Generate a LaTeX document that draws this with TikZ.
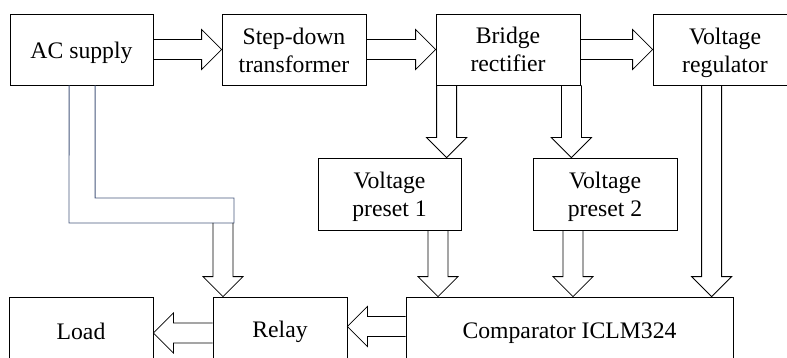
\documentclass[tikz,border=0pt]{standalone}
\usepackage{fontspec}
\setmainfont{Liberation Serif}
\newfontfamily\blkfont{Liberation Serif}
\usetikzlibrary{calc}

\definecolor{feedblue}{RGB}{70,88,124}

% hollow block arrow from #1 to #2
\newcommand{\fatarrow}[2]{%
	\coordinate (fa-s) at (#1);
	\coordinate (fa-e) at (#2);
	\coordinate (fa-c) at ($(fa-e)!20pt!(fa-s)$);
	\draw[fat] ($(fa-s)!10pt!90:(fa-e)$) -- ($(fa-c)!10pt!90:(fa-e)$) -- ($(fa-c)!20pt!90:(fa-e)$) -- (fa-e)
		-- ($(fa-c)!20pt!-90:(fa-e)$) -- ($(fa-c)!10pt!-90:(fa-e)$) -- ($(fa-s)!10pt!-90:(fa-e)$);
}
% raise the top of a node's text
\newcommand{\up}[1]{\rule{0pt}{#1pt}}

\begin{document}
\begin{tikzpicture}[x=1pt, y=-1pt, font=\blkfont\fontsize{23.7pt}{28pt}\selectfont,
	blk/.style={draw, line width=0.8pt, align=center, inner sep=0pt, minimum height=71pt},
	fat/.style={line width=0.8pt, line join=miter},
	feed/.style={draw=feedblue, line width=0.9pt}]
	\useasboundingbox (0,0) rectangle (787,358);
	
	\node[blk, minimum width=143pt] (ac) at (81.5,49.5) {\up{24}AC supply};
	\node[blk, minimum width=144pt] (step) at (294,49.5) {\up{19}Step-down\\transformer};
	\node[blk, minimum width=144pt] (bridge) at (508,49.5) {Bridge\\rectifier};
	\node[blk, minimum width=144pt] (reg) at (725,49.5) {\up{24}Voltage\\regulator};
	\node[blk, minimum width=143pt, minimum height=72pt] (pre1) at (389.5,194) {\up{23}Voltage\\preset 1};
	\node[blk, minimum width=144pt, minimum height=72pt] (pre2) at (605,194) {\up{23}Voltage\\preset 2};
	\node[blk, minimum width=144pt, minimum height=68pt] (load) at (81,331) {Load};
	\node[blk, minimum width=134pt, minimum height=68pt] (relay) at (280,331) {\up{18}Relay};
	\node[blk, minimum width=327pt, minimum height=68pt] (comp) at (569.5,331) {\up{20}Comparator ICLM324};
	
	\fatarrow{ac.east}{step.west}
	\fatarrow{step.east}{bridge.west}
	\fatarrow{bridge.east}{reg.west}
	
	\coordinate (b1) at ($(bridge.south west)+(11,0)$);
	\coordinate (b2) at ($(bridge.south east)+(-9,0)$);
	\fatarrow{b1}{b1 |- pre1.north}
	\fatarrow{b2}{b2 |- pre2.north}
	
	\coordinate (r1) at ($(reg.south west)+(59,0)$);
	\coordinate (p1) at ($(pre1.south)+(48.5,0)$);
	\coordinate (p2) at ($(pre2.south)+(-32,0)$);
	\fatarrow{r1}{r1 |- comp.north}
	\fatarrow{p1}{p1 |- comp.north}
	\fatarrow{p2}{p2 |- comp.north}
	
	\coordinate (c1) at ($(comp.west)+(0,-4.5)$);
	\coordinate (l1) at ($(relay.west)+(0,2)$);
	\fatarrow{c1}{c1 -| relay.east}
	\fatarrow{l1}{l1 -| load.east}
	
	% supply line to the relay
	\coordinate (s1) at ($(ac.south west)+(59.5,0)$);
	\coordinate (s2) at ($(ac.south west)+(85.5,0)$);
	\coordinate (bl) at (69,223);
	\coordinate (tr) at (234,198);
	\draw[feed] (s1) -- (bl) -| (tr) -- (s2 |- tr) -- (s2);
	\coordinate (k1) at (223,223);
	\fatarrow{k1}{k1 |- relay.north}
\end{tikzpicture}
\end{document}
